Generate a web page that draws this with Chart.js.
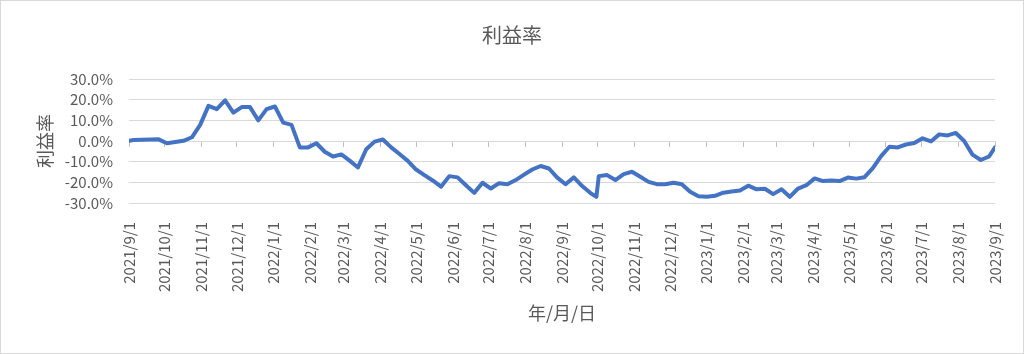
<!DOCTYPE html>
<html>
<head>
<meta charset="utf-8">
<script src="https://cdn.jsdelivr.net/npm/chart.js@4"></script>
<style>
    body { margin: 0; background: #fff; }
    #wrap { width: 1024px; height: 354px; }
</style>
</head>
<body>
<div id="wrap"><canvas id="myLineChart"></canvas></div>
<script>
// -------------------------------------------------------------------------- Data

const dates = [
    '2021/9/1', '2021/9/5', '2021/9/12', '2021/9/19', '2021/9/26', '2021/10/3', '2021/10/10', '2021/10/17',
    '2021/10/24', '2021/10/31', '2021/11/7', '2021/11/14', '2021/11/21', '2021/11/28', '2021/12/5',
    '2021/12/12', '2021/12/19', '2021/12/26',
    '2022/1/2', '2022/1/9', '2022/1/16', '2022/1/23', '2022/1/30', '2022/2/6', '2022/2/13', '2022/2/20',
    '2022/2/27', '2022/3/6', '2022/3/13', '2022/3/20', '2022/3/27', '2022/4/3', '2022/4/10', '2022/4/17',
    '2022/4/24', '2022/5/1', '2022/5/8', '2022/5/15', '2022/5/22', '2022/5/29', '2022/6/5', '2022/6/12',
    '2022/6/19', '2022/6/26', '2022/7/3', '2022/7/10', '2022/7/17', '2022/7/24', '2022/7/31', '2022/8/7',
    '2022/8/14', '2022/8/21', '2022/8/28', '2022/9/4', '2022/9/11', '2022/9/18', '2022/9/25', '2022/9/30',
    '2022/10/2', '2022/10/9', '2022/10/16', '2022/10/23', '2022/10/30', '2022/11/6', '2022/11/13',
    '2022/11/20', '2022/11/27', '2022/12/4', '2022/12/11', '2022/12/18', '2022/12/25',
    '2023/1/1', '2023/1/8', '2023/1/15', '2023/1/22', '2023/1/29', '2023/2/5', '2023/2/12', '2023/2/19',
    '2023/2/26', '2023/3/5', '2023/3/12', '2023/3/19', '2023/3/26', '2023/4/2', '2023/4/9', '2023/4/16',
    '2023/4/23', '2023/4/30', '2023/5/7', '2023/5/14', '2023/5/21', '2023/5/28', '2023/6/4', '2023/6/11',
    '2023/6/18', '2023/6/25', '2023/7/2', '2023/7/9', '2023/7/16', '2023/7/23', '2023/7/30', '2023/8/6',
    '2023/8/13', '2023/8/20', '2023/8/27', '2023/9/1'
]

// 利益率 (%)
const profitRate = [
    0.1, 0.5, 0.6, 0.7, 0.8, -1.1, -0.5, 0.1, 1.8, 7.8, 17.0, 15.4, 19.7, 13.7, 16.4, 16.4, 10.0, 15.4,
    16.7, 8.9, 7.8, -3.1, -3.1, -1.1, -5.2, -7.5, -6.5, -9.5, -12.8, -4.0, -0.3, 0.7, -3.1, -6.3, -9.6,
    -13.8, -16.5, -19.1, -22.1, -17.0, -17.6, -21.4, -25.1, -20.2, -23.0, -20.4, -20.9, -18.9, -16.3,
    -13.8, -12.1, -13.3, -17.7, -20.9, -17.6, -21.8, -25.2, -27.0, -17.0, -16.5, -18.9, -16.0, -14.9,
    -17.3, -19.8, -20.9, -20.9, -20.2, -20.9, -24.6, -26.7,
    -27.0, -26.5, -25.0, -24.4, -23.9, -21.6, -23.4, -23.1, -25.7, -23.4, -27.0, -23.0, -21.4, -18.1,
    -19.4, -19.1, -19.4, -17.7, -18.2, -17.5, -13.1, -7.3, -2.8, -3.1, -1.7, -1.0, 1.3, -0.2, 3.2, 2.7,
    3.9, 0.0, -6.6, -9.2, -7.5, -3.1
]

const monthTicks = [
    '2021/9/1', '2021/10/1', '2021/11/1', '2021/12/1', '2022/1/1', '2022/2/1', '2022/3/1', '2022/4/1',
    '2022/5/1', '2022/6/1', '2022/7/1', '2022/8/1', '2022/9/1', '2022/10/1', '2022/11/1', '2022/12/1',
    '2023/1/1', '2023/2/1', '2023/3/1', '2023/4/1', '2023/5/1', '2023/6/1', '2023/7/1', '2023/8/1',
    '2023/9/1'
]

const yTicks = [-30, -20, -10, 0, 10, 20, 30]

// -------------------------------------------------------------------------- Helpers

const grey = '#595959'
const gridGrey = '#d9d9d9'
const blue = '#4472c4'
const fontFamily = '"Noto Sans CJK JP", "Noto Sans", sans-serif'

// days since the first date, so the x axis is a real date axis
const day0 = Date.UTC(2021, 8, 1)
function toDay(s) {
    const p = s.split('/').map(Number)
    return (Date.UTC(p[0], p[1] - 1, p[2]) - day0) / 86400000
}

const tickDays = monthTicks.map(toDay)
const labelByDay = {}
monthTicks.forEach((t, i) => { labelByDay[tickDays[i]] = t })

const points = dates.map((d, i) => ({ x: toDay(d), y: profitRate[i] }))

function setMonthTicks(scale) {
    scale.ticks = tickDays.map(v => ({ value: v }))
}

const frame = {
    id: 'frame',
    beforeDraw(chart) {
        const ctx = chart.ctx
        ctx.save()
        ctx.fillStyle = '#fff'
        ctx.fillRect(0, 0, chart.width, chart.height)
        ctx.restore()
    },
    afterDraw(chart) {
        const ctx = chart.ctx
        ctx.save()
        ctx.strokeStyle = gridGrey
        ctx.lineWidth = 1
        ctx.strokeRect(0.5, 0.5, chart.width - 1, chart.height - 1)
        ctx.restore()
    }
}

// -------------------------------------------------------------------------- Line Chart Config

const configLineChart = {
    type: 'line',
    data: {
        datasets: [{
            label: '利益率',
            data: points,
            borderColor: blue,
            borderWidth: 4,
            borderJoinStyle: 'round',
            borderCapStyle: 'round',
            pointRadius: 0,
            tension: 0,
            fill: false
        }]
    },
    options: {
        responsive: false,
        animation: false,
        layout: { padding: 0 },
        plugins: {
            legend: { display: false },
            tooltip: { enabled: false },
            title: {
                display: true,
                text: '利益率',
                color: grey,
                font: { family: fontFamily, size: 20, weight: 'normal' },
                padding: { top: 23, bottom: 32 }
            }
        },
        scales: {
            x: {
                type: 'linear',
                position: 'bottom',
                min: 0,
                max: toDay('2023/9/1'),
                afterBuildTicks: setMonthTicks,
                afterFit(scale) { scale.height = 151 },
                grid: { display: false },
                border: { display: false },
                ticks: {
                    autoSkip: false,
                    minRotation: 90,
                    maxRotation: 90,
                    padding: 11,
                    color: grey,
                    font: { family: fontFamily, size: 15 },
                    callback: v => labelByDay[v]
                },
                title: {
                    display: true,
                    text: '年/月/日',
                    color: grey,
                    font: { family: fontFamily, size: 18 },
                    padding: { top: 0, bottom: 30 }
                }
            },
            xAxisLine: {
                type: 'linear',
                axis: 'x',
                position: { y: 0 },
                min: 0,
                max: toDay('2023/9/1'),
                afterBuildTicks: setMonthTicks,
                grid: {
                    drawOnChartArea: false,
                    drawTicks: true,
                    tickLength: 5,
                    color: '#bfbfbf'
                },
                border: { display: true, color: gridGrey },
                ticks: { display: false }
            },
            y: {
                min: -30,
                max: 30,
                afterBuildTicks(scale) { scale.ticks = yTicks.map(v => ({ value: v })) },
                afterFit(scale) { scale.width = 129 },
                grid: { color: gridGrey, drawTicks: false },
                border: { display: false },
                ticks: {
                    autoSkip: false,
                    padding: 16,
                    color: grey,
                    font: { family: fontFamily, size: 15 },
                    callback: v => v.toFixed(1) + '%'
                },
                title: {
                    display: true,
                    text: '利益率',
                    color: grey,
                    font: { family: fontFamily, size: 18 },
                    padding: { top: 34, bottom: 0 }
                }
            },
            // empty right margin so the chart title centres on the whole canvas
            yRight: {
                type: 'linear',
                axis: 'y',
                position: 'right',
                afterFit(scale) { scale.width = 25 },
                grid: { display: false },
                border: { display: false },
                ticks: { display: false }
            }
        }
    },
    plugins: [frame]
}

// -------------------------------------------------------------------------- Render Chart

const canvas = document.getElementById('myLineChart')
canvas.width = 1024
canvas.height = 354
canvas.style.width = '1024px'
canvas.style.height = '354px'

let myLineChart = new Chart(canvas, configLineChart)
</script>
</body>
</html>
